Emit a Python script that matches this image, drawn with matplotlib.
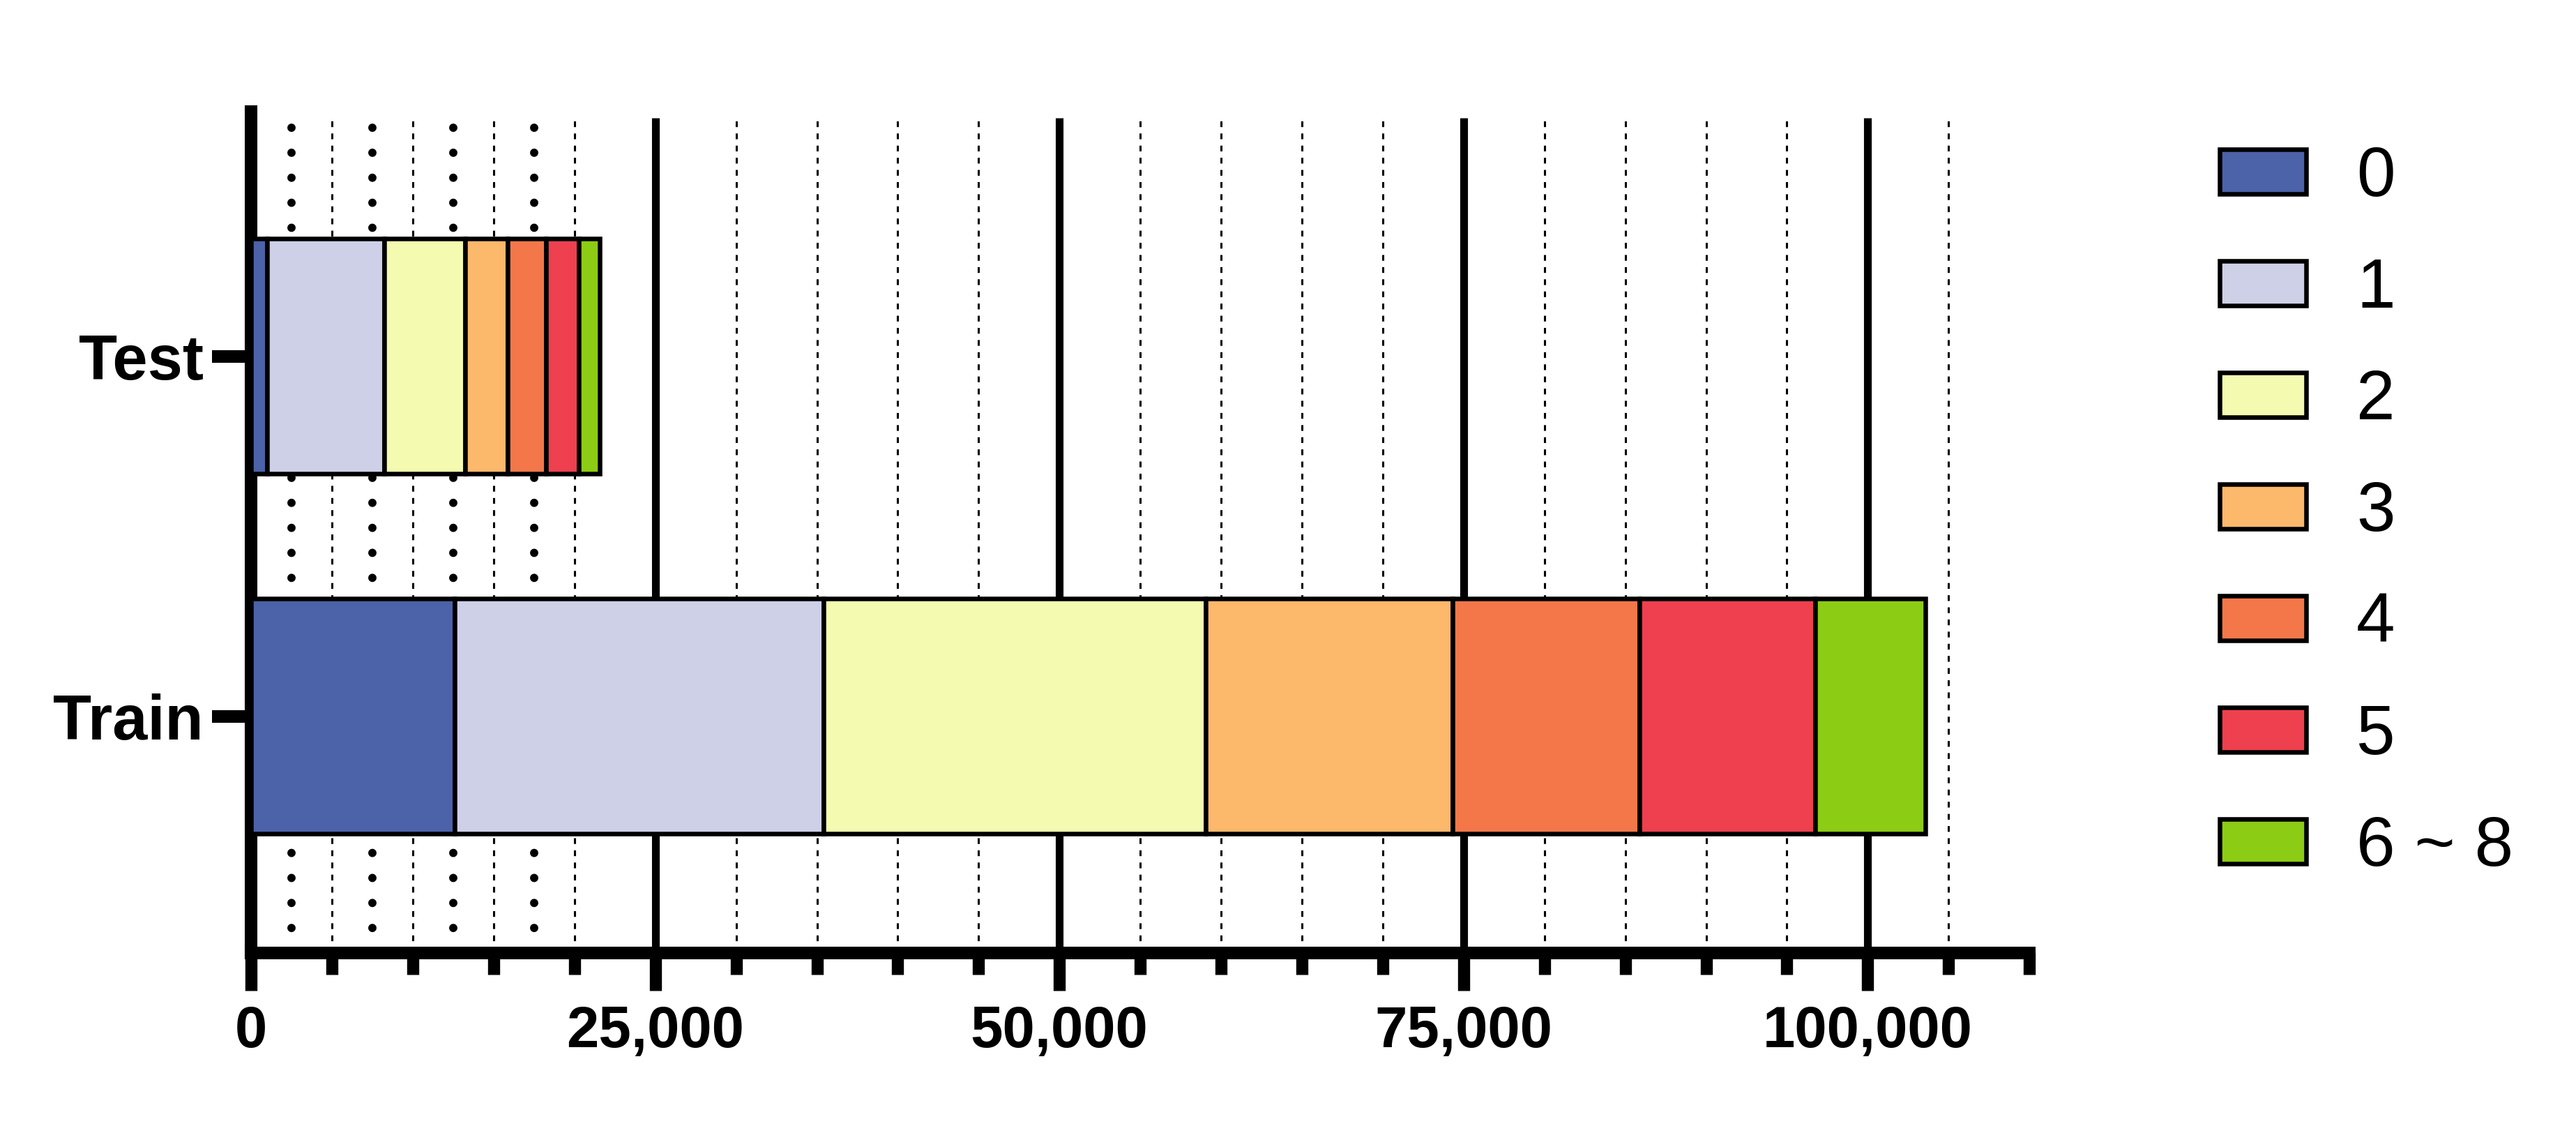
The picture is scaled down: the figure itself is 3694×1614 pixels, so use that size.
import matplotlib
matplotlib.use('Agg')
import matplotlib.pyplot as plt
from matplotlib.ticker import StrMethodFormatter
import numpy as np

plt.rcParams['font.family'] = ['Liberation Sans', 'DejaVu Sans']

# data
groups = ['Train', 'Test']
classes = ['0', '1', '2', '3', '4', '5', '6 ~ 8']
train_counts = [12580, 22820, 23670, 15250, 11540, 10890, 6820]
test_counts = [970, 7250, 5010, 2630, 2370, 2020, 1320]
colors = ['#4C62A9', '#CDD0E6', '#F4FAB0', '#FCB86B', '#F4774A', '#EE404F', '#8CCC14']

major_ticks = [0, 25000, 50000, 75000, 100000]
minor_ticks = [v for v in range(5000, 110001, 5000) if v % 25000]
dotted_lines = [2500, 7500, 12500, 17500]

y_lo, y_hi = -0.657, 1.680
grid_top = 1.663

fig = plt.figure(figsize=(36.94, 16.14), dpi=100)
ax = fig.add_axes([0.0975, 0.1537, 0.6903, 0.7472])

# grid behind the bars
ax.vlines(major_ticks[1:], y_lo, grid_top, colors='black', linewidth=8, zorder=1)
ax.vlines([v for v in minor_ticks if v < 110000], y_lo, grid_top, colors='black',
          linewidth=2.2, linestyles=[(0, (2.7, 3))], zorder=1)
dots = ax.vlines(dotted_lines, y_lo, grid_top, colors='black',
                 linewidth=8.6, linestyles=[(0, (0.001, 3))], zorder=1)
dots.set_capstyle('round')

y = np.arange(len(groups))
counts = np.array([train_counts, test_counts])
left = np.zeros(len(groups))
for i, cls in enumerate(classes):
    ax.barh(y, counts[:, i], left=left, height=0.653, color=colors[i],
            edgecolor='black', linewidth=4.7, label=cls, zorder=3)
    left += counts[:, i]

ax.set_xlim(0, 110000)
ax.set_ylim(y_lo, y_hi)

ax.set_xticks(major_ticks)
ax.set_xticks(minor_ticks, minor=True)
ax.xaxis.set_major_formatter(StrMethodFormatter('{x:,.0f}'))
for lab in ax.get_xticklabels():
    lab.set_fontweight('bold')
    lab.set_fontsize(60)
ax.tick_params(axis='x', which='major', length=39, width=12.5, pad=14)
ax.tick_params(axis='x', which='minor', length=22, width=12.5)

ax.set_yticks(y)
ax.set_yticklabels(groups, fontweight='bold', fontsize=65)
ax.tick_params(axis='y', length=40, width=13, pad=9)

for s in ['top', 'right']:
    ax.spines[s].set_visible(False)
ax.spines['left'].set_linewidth(13)
ax.spines['bottom'].set_linewidth(13)

ax.legend(loc='upper left', bbox_to_anchor=(3183 / 3694, 1 - 208 / 1614),
          bbox_transform=fig.transFigure, frameon=False, fontsize=72,
          handlelength=1.24, handleheight=0.6, handletextpad=0.72,
          labelspacing=0.66, borderpad=0, borderaxespad=0)

fig.savefig('out.png', dpi=100)
